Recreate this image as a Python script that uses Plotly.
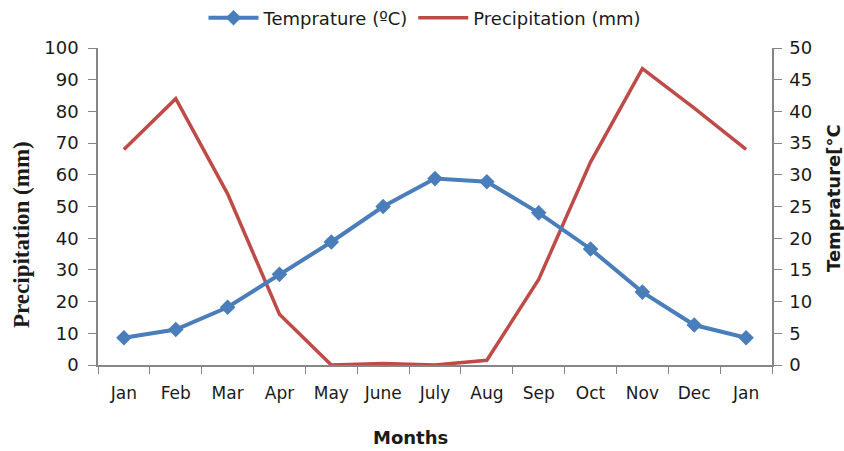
import plotly.graph_objects as go

months = ["Jan", "Feb", "Mar", "Apr", "May", "June", "July", "Aug", "Sep", "Oct", "Nov", "Dec", "Jan"]
temperature = [4.3, 5.6, 9.1, 14.3, 19.4, 25.0, 29.4, 28.9, 24.0, 18.3, 11.5, 6.3, 4.3]
precipitation = [68, 84, 54, 16, 0, 0.5, 0, 1.5, 27, 64, 93.5, 81, 68]
left_ticks = list(range(0, 101, 10))
right_ticks = list(range(0, 51, 5))

x = list(range(len(months)))
boundaries = [i - 0.5 for i in range(len(months) + 1)]

AX = "#868686"
TXT = "#1a1a1a"
FONT = "DejaVu Sans"

fig = go.Figure()
fig.add_trace(go.Scatter(
    x=x, y=temperature, name="Temprature (ºC)", yaxis="y2",
    mode="lines+markers",
    line=dict(color="#4A7EBB", width=4),
    marker=dict(symbol="diamond", size=12, color="#4A7EBB"),
))
fig.add_trace(go.Scatter(
    x=x, y=precipitation, name="Precipitation (mm)", yaxis="y",
    mode="lines",
    line=dict(color="#BE4B48", width=3.5),
))

fig.update_layout(
    width=844, height=451,
    margin=dict(l=98, r=72, t=48, b=86, autoexpand=False),
    paper_bgcolor="white", plot_bgcolor="white",
    font=dict(family=FONT, size=16, color=TXT),
    showlegend=True,
    legend=dict(orientation="h", xref="paper", yref="paper",
                x=(425 - 98) / 674, xanchor="center",
                y=(365 - 18) / 317, yanchor="middle",
                font=dict(size=18, color=TXT), itemwidth=50,
                traceorder="normal", tracegroupgap=0),
    xaxis=dict(
        range=[-0.5, len(months) - 0.5],
        tickmode="array", tickvals=x, ticktext=months,
        ticks="", showgrid=False, zeroline=False,
        showline=True, linecolor=AX, linewidth=1.5,
        tickfont=dict(size=17, color=TXT),
        ticklabelstandoff=12,
        minor=dict(tickmode="array", tickvals=boundaries, ticks="outside",
                   ticklen=7, tickcolor=AX, tickwidth=1, showgrid=False),
    ),
    yaxis=dict(
        range=[0, 100], tickmode="array", tickvals=left_ticks,
        ticks="outside", ticklen=8, tickcolor=AX,
        ticklabelstandoff=6,
        showgrid=False, zeroline=False,
        showline=True, linecolor=AX, linewidth=1.5,
        tickfont=dict(size=18, color=TXT),
    ),
    yaxis2=dict(
        range=[0, 50], tickmode="array", tickvals=right_ticks,
        overlaying="y", side="right",
        ticks="outside", ticklen=8, tickcolor=AX,
        ticklabelstandoff=4,
        showgrid=False, zeroline=False,
        showline=True, linecolor=AX, linewidth=1.5,
        tickfont=dict(size=18, color=TXT),
    ),
    annotations=[
        dict(text="<b>Precipitation (mm)</b>", xref="paper", yref="paper",
             x=(21 - 98) / 674, y=(365 - 235) / 317, textangle=-90,
             showarrow=False, xanchor="center", yanchor="middle",
             font=dict(family="Liberation Serif", size=23, color=TXT)),
        dict(text="<b>Temprature[°C</b>", xref="paper", yref="paper",
             x=(834 - 98) / 674, y=(365 - 198) / 317, textangle=-90,
             showarrow=False, xanchor="center", yanchor="middle",
             font=dict(family=FONT, size=18, color=TXT)),
        dict(text="<b>Months</b>", xref="paper", yref="paper",
             x=(410 - 98) / 674, y=(365 - 438) / 317,
             showarrow=False, xanchor="center", yanchor="middle",
             font=dict(family=FONT, size=18, color=TXT)),
    ],
)

fig.write_html("out.html", config={"displayModeBar": False},
               post_script="document.body.style.margin='0px';")
